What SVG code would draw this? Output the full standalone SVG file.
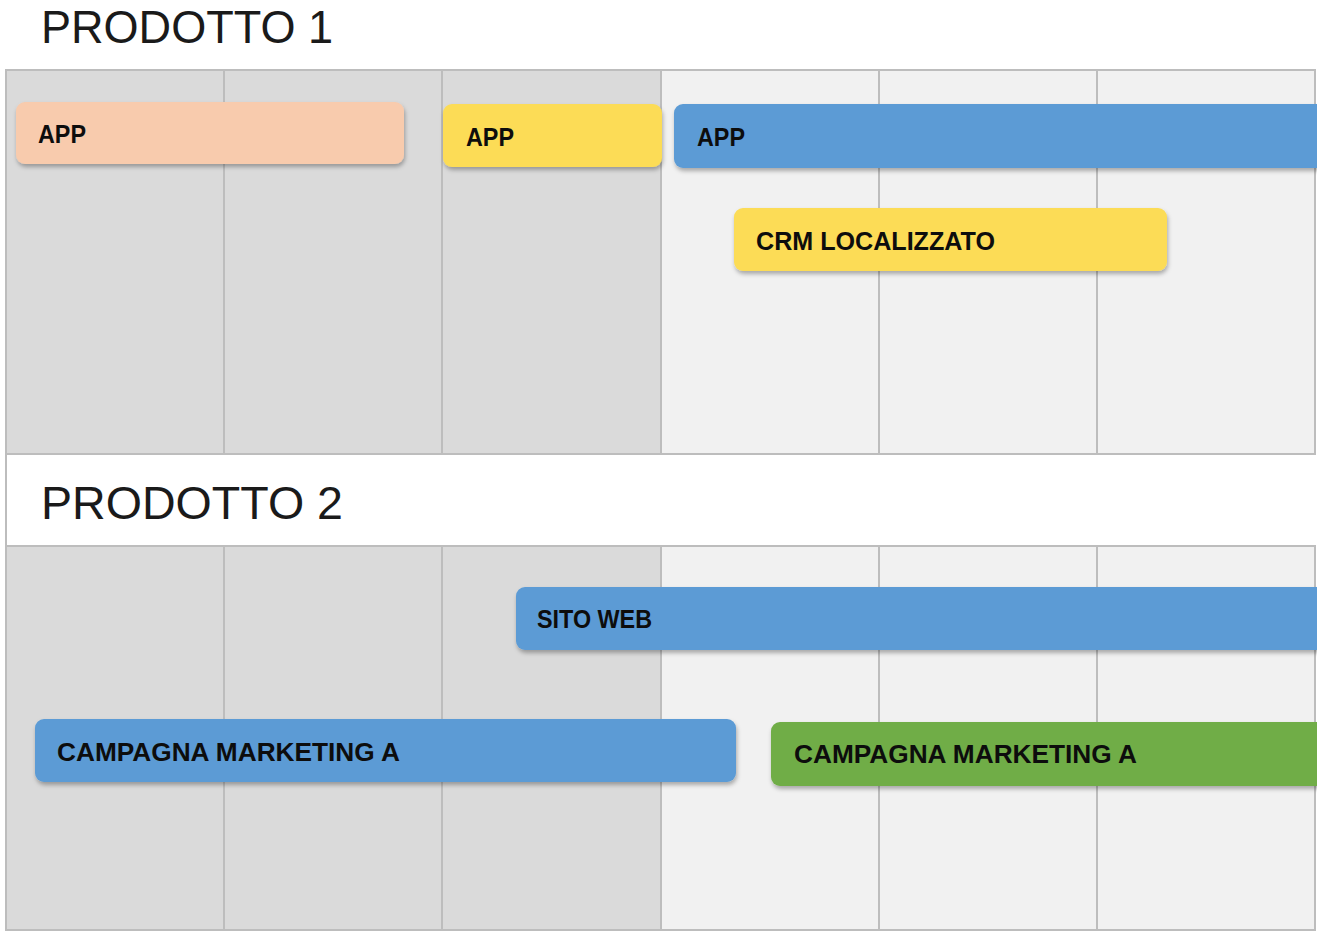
<svg xmlns="http://www.w3.org/2000/svg" width="1317" height="938" viewBox="0 0 1317 938">
<defs>
<filter id="sh" x="-5%" y="-20%" width="110%" height="150%">
<feDropShadow dx="1" dy="3" stdDeviation="2" flood-color="#000" flood-opacity="0.3"/>
</filter>
</defs>
<style>
.title{font-family:"Liberation Sans",Arial,sans-serif;font-size:46px;fill:#1a1a1a}
.lbl{font-family:"Liberation Sans",Arial,sans-serif;font-size:25px;font-weight:bold;fill:#0d0d0d}
.grid{stroke:#bdbdbd;stroke-width:2;fill:none}
.dark{fill:#dadada}
.light{fill:#f1f1f1}
.bar{filter:url(#sh)}
</style>
<rect x="0" y="0" width="1317" height="938" fill="#ffffff"/>
<text class="title" x="41" y="43" textLength="292" lengthAdjust="spacingAndGlyphs">PRODOTTO 1</text>
<g id="grid1">
<rect class="dark" x="6" y="70" width="655" height="384"/>
<rect class="light" x="661" y="70" width="654" height="384"/>
<rect class="grid" x="6" y="70" width="1309" height="384"/>
<path class="grid" d="M224 70V454M442 70V454M661 70V454M879 70V454M1097 70V454"/>
</g>
<g id="band2">
<rect x="7" y="455" width="1310" height="90" fill="#ffffff"/>
<path class="grid" d="M6 454V546"/>
<text class="title" x="41" y="519" textLength="302" lengthAdjust="spacingAndGlyphs">PRODOTTO 2</text>
</g>
<g id="grid2">
<rect class="dark" x="6" y="546" width="655" height="384"/>
<rect class="light" x="661" y="546" width="654" height="384"/>
<rect class="grid" x="6" y="546" width="1309" height="384"/>
<path class="grid" d="M224 546V930M442 546V930M661 546V930M879 546V930M1097 546V930"/>
</g>
<g id="connectors"></g>
<g id="bar-app-1">
<rect class="bar" x="16" y="102" width="388" height="62" rx="9" fill="#f8cbad"/>
<text class="lbl" x="38" y="143" textLength="48" lengthAdjust="spacingAndGlyphs">APP</text>
</g>
<g id="bar-app-2">
<rect class="bar" x="443" y="104" width="219" height="63" rx="9" fill="#fcdc56"/>
<text class="lbl" x="466" y="146" textLength="48" lengthAdjust="spacingAndGlyphs">APP</text>
</g>
<g id="bar-app-3">
<rect class="bar" x="674" y="104" width="660" height="64" rx="9" fill="#5b9bd5"/>
<text class="lbl" x="697" y="146" textLength="48" lengthAdjust="spacingAndGlyphs">APP</text>
</g>
<g id="bar-crm">
<rect class="bar" x="734" y="208" width="433" height="63" rx="9" fill="#fcdc56"/>
<text class="lbl" x="756" y="250" textLength="239" lengthAdjust="spacingAndGlyphs">CRM LOCALIZZATO</text>
</g>
<g id="bar-sito">
<rect class="bar" x="516" y="587" width="820" height="63" rx="9" fill="#5b9bd5"/>
<text class="lbl" x="537" y="628" textLength="115" lengthAdjust="spacingAndGlyphs">SITO WEB</text>
</g>
<g id="bar-camp-1">
<rect class="bar" x="35" y="719" width="701" height="63" rx="9" fill="#5b9bd5"/>
<text class="lbl" x="57" y="761" textLength="343" lengthAdjust="spacingAndGlyphs">CAMPAGNA MARKETING A</text>
</g>
<g id="bar-camp-2">
<rect class="bar" x="771" y="722" width="560" height="64" rx="9" fill="#70ad47"/>
<text class="lbl" x="794" y="763" textLength="343" lengthAdjust="spacingAndGlyphs">CAMPAGNA MARKETING A</text>
</g>
</svg>
